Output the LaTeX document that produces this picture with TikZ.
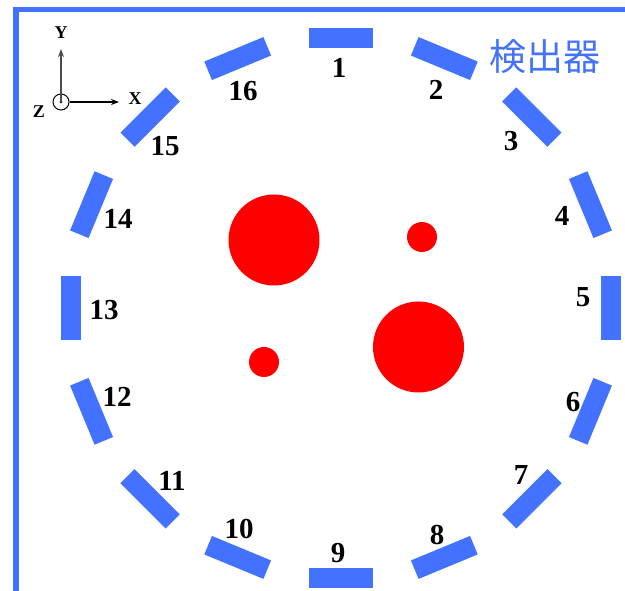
\documentclass[tikz,border=0pt]{standalone}
\usepackage{fontspec}
\setmainfont{Liberation Serif}
\newfontfamily\cjk{Noto Sans CJK JP}
\usepackage{tikz}
\usetikzlibrary{arrows.meta, calc}
\definecolor{bleu}{RGB}{66,114,255}
\definecolor{rouge}{RGB}{255,0,0}

\tikzset{
  det/.style={rectangle, fill=bleu, inner sep=0pt, minimum width=64pt, minimum height=20pt},
  num/.style={font=\fontsize{29}{29}\selectfont\bfseries, inner sep=0pt},
  axe/.style={font=\fontsize{18}{18}\selectfont\bfseries, inner sep=0pt},
  source/.style={circle, fill=rouge, inner sep=0pt}
}

\begin{document}
\begin{tikzpicture}[x=1pt, y=1pt]
				\clip (0,0) rectangle (625,591);
				% cadre
				\draw[bleu, line width=5.5pt] (16,-4) rectangle (640,581.5);
				\coordinate (c) at (341,283);
				% detecteurs
				\foreach \i/\lx/\ly in {1/339/523, 2/436/501, 3/511/450, 4/562/375,
					5/583/294, 6/573/189, 7/521/116, 8/437/56,
					9/338/38, 10/239/62, 11/172/110, 12/117/194,
					13/104/281, 14/118/372, 15/165/445, 16/243/500}{
					\pgfmathsetmacro\ang{90-(\i-1)*22.5}
					\node[det, rotate=\ang-90] (d\i) at ($(c)+(\ang:270)$) {};
					\node[num] (n\i) at (\lx,\ly) {\i};
				}
				\node[bleu, inner sep=0pt, font=\cjk\fontsize{37}{37}\selectfont] (titre) at (545,534) {検出器};
				% sources
				\node[source, minimum size=91pt] (s1) at (274,351) {};
				\node[source, minimum size=91pt] (s2) at (418.5,244) {};
				\node[source, minimum size=30pt] (s3) at (422,354) {};
				\node[source, minimum size=30pt] (s4) at (264,229) {};
				% axes
				\node[circle, draw, line width=1pt, minimum size=16pt, inner sep=0pt] (o) at (61,489) {};
				\fill (o.center) circle (1.5pt);
				\coordinate (yt) at (61,542);
				\coordinate (xt) at (119,489);
				\draw[gray!60!black, line width=1.5pt, -{Stealth[length=8pt, width=6pt]}] (o.center) -- (yt);
				\draw[line width=1.2pt, -{Stealth[length=8pt, width=6pt]}] (o.east) -- (xt);
				\node[axe] (ly) at (61,558) {Y};
				\node[axe] (lx) at (135,492) {X};
				\node[axe] (lz) at (39,479) {Z};
			\end{tikzpicture}
\end{document}
